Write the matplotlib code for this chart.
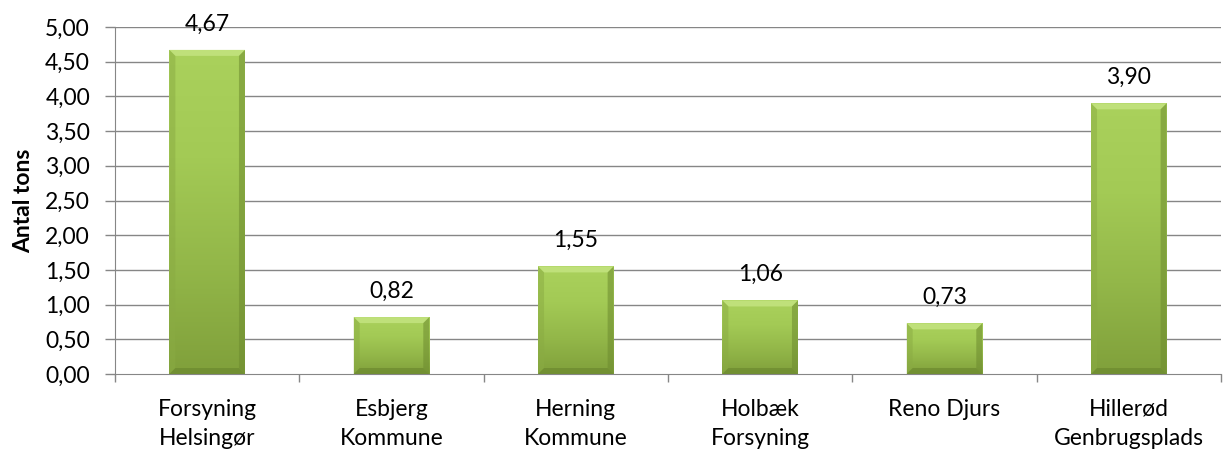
import matplotlib
matplotlib.use("Agg")
import matplotlib.pyplot as plt
import numpy as np
from matplotlib.patches import Polygon
from matplotlib.colors import LinearSegmentedColormap

categories = ["Forsyning\nHelsingør", "Esbjerg\nKommune", "Herning\nKommune",
              "Holbæk\nForsyning", "Reno Djurs", "Hillerød\nGenbrugsplads"]
values = [4.67, 0.82, 1.55, 1.06, 0.73, 3.90]
yticks = [0.0, 0.5, 1.0, 1.5, 2.0, 2.5, 3.0, 3.5, 4.0, 4.5, 5.0]
ytick_labels = ["0,00", "0,50", "1,00", "1,50", "2,00", "2,50", "3,00", "3,50", "4,00", "4,50", "5,00"]
value_labels = ["4,67", "0,82", "1,55", "1,06", "0,73", "3,90"]

plt.rcParams['font.family'] = ['Lato', 'DejaVu Sans']
FS = 16.5

fig = plt.figure(figsize=(12.23, 4.55), dpi=100)
ax_l, ax_r, ax_t, ax_b = 115, 1221, 27, 374
ax = fig.add_axes([ax_l/1223, 1-ax_b/455, (ax_r-ax_l)/1223, (ax_b-ax_t)/455])

x = np.arange(len(categories))
width = 0.41
ax.set_xlim(-0.5, len(categories) - 0.5)
ax.set_ylim(0, 5)

grid_c = "#868686"
for t in yticks[1:]:
    ax.axhline(t, color=grid_c, lw=1.0, zorder=1)

px_x = (ax_r - ax_l) / len(categories)
px_y = (ax_b - ax_t) / 5.0
bw = 6 / px_x
bh = 6 / px_y

cmap = LinearSegmentedColormap.from_list("g", ["#80a03b", "#93b749", "#a3ca55", "#aad15c"])
grad = np.linspace(0, 1, 256).reshape(-1, 1)
bars = ax.bar(x, values, width=width, color="none", zorder=2)
for b, v, lab in zip(bars, values, value_labels):
    x0 = b.get_x(); x1 = x0 + b.get_width()
    im = ax.imshow(grad, aspect="auto", cmap=cmap, extent=[x0, x1, 0, v],
                   origin="lower", zorder=2, interpolation="bilinear")
    im.set_clip_path(b)
    top = Polygon([[x0, v], [x1, v], [x1 - bw, v - bh], [x0 + bw, v - bh]],
                  closed=True, facecolor="#bfe07a", edgecolor="none", zorder=3)
    left = Polygon([[x0, 0], [x0, v], [x0 + bw, v - bh], [x0 + bw, bh]],
                   closed=True, facecolor="#8aab43", edgecolor="none", zorder=3, alpha=0.5)
    right = Polygon([[x1, 0], [x1, v], [x1 - bw, v - bh], [x1 - bw, bh]],
                    closed=True, facecolor="#6d8b2f", edgecolor="none", zorder=3, alpha=0.55)
    bottom = Polygon([[x0, 0], [x1, 0], [x1 - bw, bh], [x0 + bw, bh]],
                     closed=True, facecolor="#6a872e", edgecolor="none", zorder=3, alpha=0.65)
    for p in (top, left, right, bottom):
        ax.add_patch(p)
    ax.annotate(lab, (b.get_x() + b.get_width() / 2, v), xytext=(0, 11),
                textcoords="offset points", ha="center", va="bottom",
                fontsize=FS, color="#000000", zorder=4)

ax.set_yticks(yticks)
ax.set_yticklabels(ytick_labels, fontsize=FS)
ax.set_xticks(x)
ax.set_xticklabels(categories, fontsize=FS, linespacing=1.45)
ax.tick_params(axis="x", length=0, pad=18)
ax.set_xticks(np.arange(-0.5, len(categories) + 0.5, 1), minor=True)
ax.tick_params(axis="x", which="minor", length=6, color=grid_c, width=1)
ax.tick_params(axis="y", length=7, color=grid_c, width=1, pad=11)

for s in ["top", "right"]:
    ax.spines[s].set_visible(False)
ax.spines["left"].set_color(grid_c)
ax.spines["bottom"].set_color(grid_c)

ax.set_ylabel("Antal tons", fontsize=FS, fontweight="bold", labelpad=8)

fig.savefig("out.png", dpi=100)
